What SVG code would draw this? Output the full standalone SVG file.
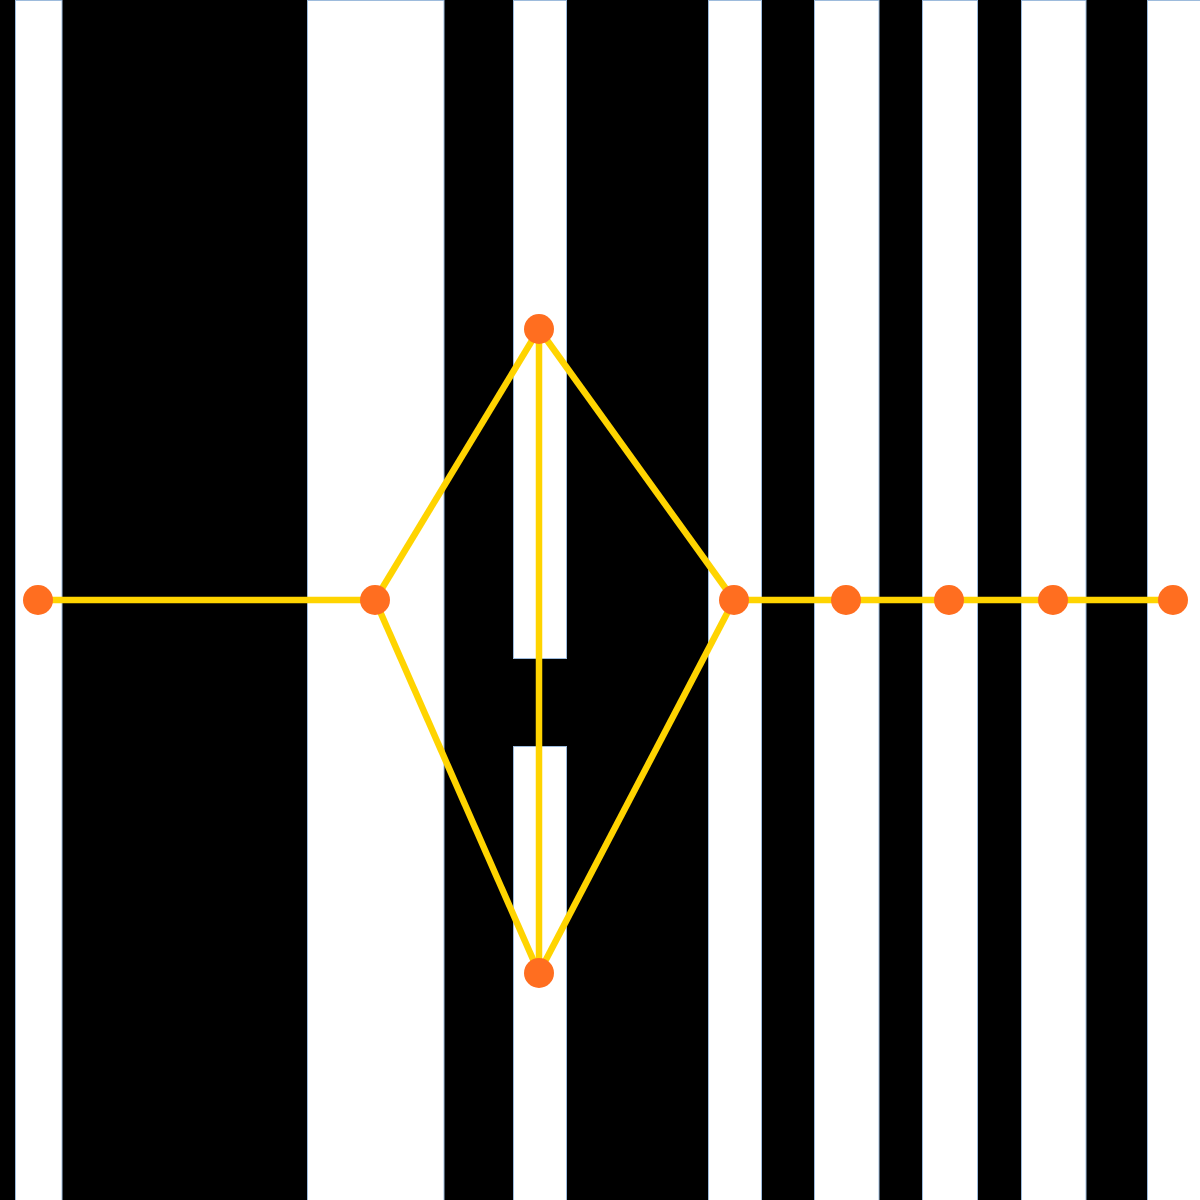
<svg xmlns="http://www.w3.org/2000/svg" width="1200" height="1200" viewBox="0 0 1200 1200">
<style>
.w{fill:#ffffff;stroke:#9dbbdc;stroke-width:1}
.e{stroke:#ffd400;stroke-width:6.5;fill:none;stroke-linecap:butt}
.n{fill:#ff6e20}
</style>
<rect x="0" y="0" width="1200" height="1200" fill="#000000"/>
<g id="background">
<rect class="w" x="15.5" y="0.5" width="46.5" height="1200"/>
<rect class="w" x="307.5" y="0.5" width="136.5" height="1200"/>
<rect class="w" x="513.5" y="0.5" width="53" height="658"/>
<rect class="w" x="513.5" y="746.5" width="53" height="460"/>
<rect class="w" x="708.5" y="0.5" width="53" height="1200"/>
<rect class="w" x="814.5" y="0.5" width="64.5" height="1200"/>
<rect class="w" x="922.5" y="0.5" width="55" height="1200"/>
<rect class="w" x="1021.5" y="0.5" width="64.5" height="1200"/>
<rect class="w" x="1147.5" y="0.5" width="60" height="1200"/>
</g>
<g id="connectors">
<line class="e" x1="38" y1="600" x2="375" y2="600"/>
<line class="e" x1="375" y1="600" x2="539" y2="329"/>
<line class="e" x1="375" y1="600" x2="539" y2="973"/>
<line class="e" x1="539" y1="329" x2="539" y2="973"/>
<line class="e" x1="539" y1="329" x2="734" y2="600"/>
<line class="e" x1="539" y1="973" x2="734" y2="600"/>
<line class="e" x1="734" y1="600" x2="846" y2="600"/>
<line class="e" x1="846" y1="600" x2="949" y2="600"/>
<line class="e" x1="949" y1="600" x2="1053" y2="600"/>
<line class="e" x1="1053" y1="600" x2="1173" y2="600"/>
</g>
<g id="n1"><circle class="n" cx="38" cy="600" r="15"/></g>
<g id="n2"><circle class="n" cx="375" cy="600" r="15"/></g>
<g id="n3"><circle class="n" cx="539" cy="329" r="15"/></g>
<g id="n4"><circle class="n" cx="539" cy="973" r="15"/></g>
<g id="n5"><circle class="n" cx="734" cy="600" r="15"/></g>
<g id="n6"><circle class="n" cx="846" cy="600" r="15"/></g>
<g id="n7"><circle class="n" cx="949" cy="600" r="15"/></g>
<g id="n8"><circle class="n" cx="1053" cy="600" r="15"/></g>
<g id="n9"><circle class="n" cx="1173" cy="600" r="15"/></g>
</svg>
